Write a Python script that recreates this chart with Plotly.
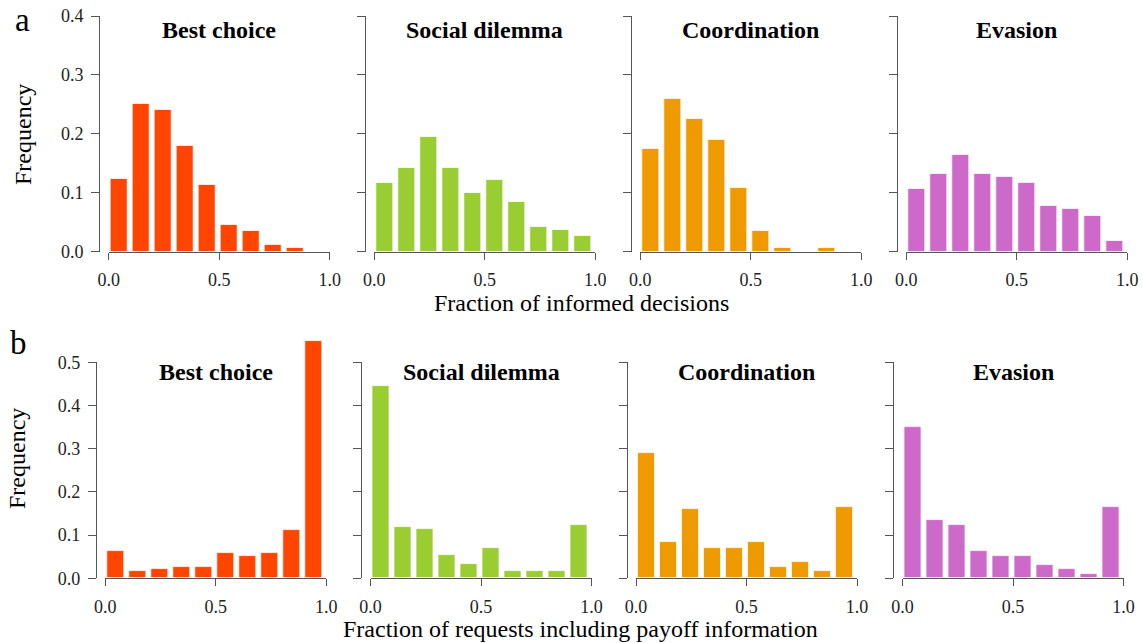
import plotly.graph_objects as go

# ---- data -------------------------------------------------------------
bin_centers = [0.05, 0.15, 0.25, 0.35, 0.45, 0.55, 0.65, 0.75, 0.85, 0.95]
games = ["Best choice", "Social dilemma", "Coordination", "Evasion"]
game_colors = ["#FF4500", "#9ACD32", "#EE9A00", "#CD69C9"]

# (a) fraction of informed decisions
informed_best = [0.123, 0.250, 0.240, 0.179, 0.114, 0.046, 0.036, 0.011, 0.006, 0.0]
informed_social = [0.117, 0.142, 0.194, 0.142, 0.100, 0.121, 0.085, 0.042, 0.037, 0.027]
informed_coord = [0.174, 0.260, 0.225, 0.190, 0.108, 0.036, 0.006, 0.0, 0.006, 0.0]
informed_evasion = [0.106, 0.132, 0.164, 0.132, 0.127, 0.117, 0.078, 0.072, 0.061, 0.018]

# (b) fraction of requests including payoff information
payoff_best = [0.063, 0.017, 0.022, 0.025, 0.025, 0.058, 0.052, 0.058, 0.111, 0.550]
payoff_social = [0.445, 0.118, 0.113, 0.053, 0.032, 0.070, 0.016, 0.016, 0.016, 0.123]
payoff_coord = [0.289, 0.084, 0.160, 0.070, 0.070, 0.084, 0.027, 0.038, 0.017, 0.165]
payoff_evasion = [0.351, 0.135, 0.123, 0.062, 0.052, 0.052, 0.031, 0.021, 0.009, 0.165]

y_ticks_a = [0.0, 0.1, 0.2, 0.3, 0.4]
y_ticks_b = [0.0, 0.1, 0.2, 0.3, 0.4, 0.5]
x_ticks = [0.0, 0.5, 1.0]

rows = [
    [informed_best, informed_social, informed_coord, informed_evasion],
    [payoff_best, payoff_social, payoff_coord, payoff_evasion],
]

# ---- page geometry (pixels) ---------------------------------------------
W, H = 1143, 643
FONT = "Liberation Serif"
AXIS_COLOR = "#555555"
TICK_FONT = dict(family=FONT, size=18, color="#222222")


def fx(x):
    return x / W


def fy(y):
    return 1 - y / H


row_geom = [
    # x of the 0.0 tick per panel, panel width, y of zero line, px per unit,
    # top of the data range, value ticks
    dict(x0=[108.7, 374.3, 640.3, 906.3], w=221.0, y0=251.8, k=589.5,
         data_top=0.4, ticks=y_ticks_a),
    dict(x0=[105.3, 370.5, 636.0, 902.5], w=221.0, y0=578.3, k=432.0,
         data_top=0.6, ticks=y_ticks_b),
]

fig = go.Figure()
layout = {}
annotations = []

n = 0
for r, geom in enumerate(row_geom):
    for c in range(4):
        n += 1
        m = n + 8
        x0 = geom["x0"][c]
        x1 = x0 + geom["w"]
        y0 = geom["y0"]
        k = geom["k"]
        tmax = geom["ticks"][-1]

        fig.add_trace(go.Bar(
            x=bin_centers, y=rows[r][c],
            width=0.077, offset=-0.043,
            marker=dict(color=game_colors[c],
                        line=dict(color="rgba(255,255,255,0.75)", width=1)),
            xaxis=f"x{n}", yaxis=f"y{n}",
            showlegend=False, hoverinfo="x+y",
        ))
        # carrier for the offset value axis of this panel
        fig.add_trace(go.Scatter(
            x=[], y=[], xaxis=f"x{m}", yaxis=f"y{m}",
            showlegend=False, hoverinfo="skip",
        ))

        layout[f"xaxis{n}"] = dict(
            domain=[fx(x0), fx(x1)], range=[0, 1], anchor=f"y{n}",
            showline=True, linecolor=AXIS_COLOR, linewidth=1,
            ticks="outside", ticklen=7, tickcolor=AXIS_COLOR, tickwidth=1,
            tickvals=x_ticks, ticktext=[f"{v:.1f}" for v in x_ticks],
            tickfont=TICK_FONT, ticklabelstandoff=5,
            showgrid=False, zeroline=False, fixedrange=True, automargin=False,
        )
        layout[f"yaxis{n}"] = dict(
            domain=[fy(y0), fy(y0 - geom["data_top"] * k)],
            range=[0, geom["data_top"]], anchor=f"x{n}",
            visible=False, fixedrange=True, automargin=False,
        )
        layout[f"xaxis{m}"] = dict(
            domain=[fx(x0), fx(x1)], range=[0, 1], anchor=f"y{m}",
            visible=False, fixedrange=True, automargin=False,
        )
        # value axis drawn offset to the left, spanning only the tick range
        layout[f"yaxis{m}"] = dict(
            domain=[fy(y0), fy(y0 - tmax * k)], range=[0, tmax],
            anchor="free", position=fx(x0 - 9.5),
            showline=True, linecolor=AXIS_COLOR, linewidth=1,
            ticks="outside", ticklen=8, tickcolor=AXIS_COLOR, tickwidth=1,
            tickvals=geom["ticks"], ticktext=[f"{v:.1f}" for v in geom["ticks"]],
            showticklabels=(c == 0), tickfont=TICK_FONT, ticklabelstandoff=4,
            showgrid=False, zeroline=False, fixedrange=True, automargin=False,
        )

        title_y = 30 if r == 0 else 372
        annotations.append(dict(
            text=f"<b>{games[c]}</b>", x=fx((x0 + x1) / 2), y=fy(title_y),
            xref="paper", yref="paper", xanchor="center", yanchor="middle",
            showarrow=False, font=dict(family=FONT, size=24, color="black"),
        ))

# panel letters
annotations.append(dict(text="a", x=fx(22), y=1, xref="paper", yref="paper",
                        xanchor="center", yanchor="top", showarrow=False,
                        font=dict(family=FONT, size=33, color="black")))
annotations.append(dict(text="b", x=fx(18), y=fy(343), xref="paper", yref="paper",
                        xanchor="center", yanchor="middle", showarrow=False,
                        font=dict(family=FONT, size=33, color="black")))

# axis titles
annotations.append(dict(text="Frequency", x=fx(23), y=fy(135), xref="paper", yref="paper",
                        xanchor="center", yanchor="middle", textangle=-90, showarrow=False,
                        font=dict(family=FONT, size=24, color="black")))
annotations.append(dict(text="Frequency", x=fx(17), y=fy(459), xref="paper", yref="paper",
                        xanchor="center", yanchor="middle", textangle=-90, showarrow=False,
                        font=dict(family=FONT, size=24, color="black")))
annotations.append(dict(text="Fraction of informed decisions", x=fx(581), y=fy(303),
                        xref="paper", yref="paper", xanchor="center", yanchor="middle",
                        showarrow=False, font=dict(family=FONT, size=24, color="black")))
annotations.append(dict(text="Fraction of requests including payoff information",
                        x=fx(580), y=fy(629), xref="paper", yref="paper",
                        xanchor="center", yanchor="middle", showarrow=False,
                        font=dict(family=FONT, size=24, color="black")))

fig.update_layout(
    width=W, height=H,
    margin=dict(l=0, r=0, t=0, b=0, pad=0, autoexpand=False),
    paper_bgcolor="white", plot_bgcolor="rgba(0,0,0,0)",
    bargap=0, annotations=annotations,
    **layout,
)

fig.write_html("out.html", config={"displayModeBar": False})
